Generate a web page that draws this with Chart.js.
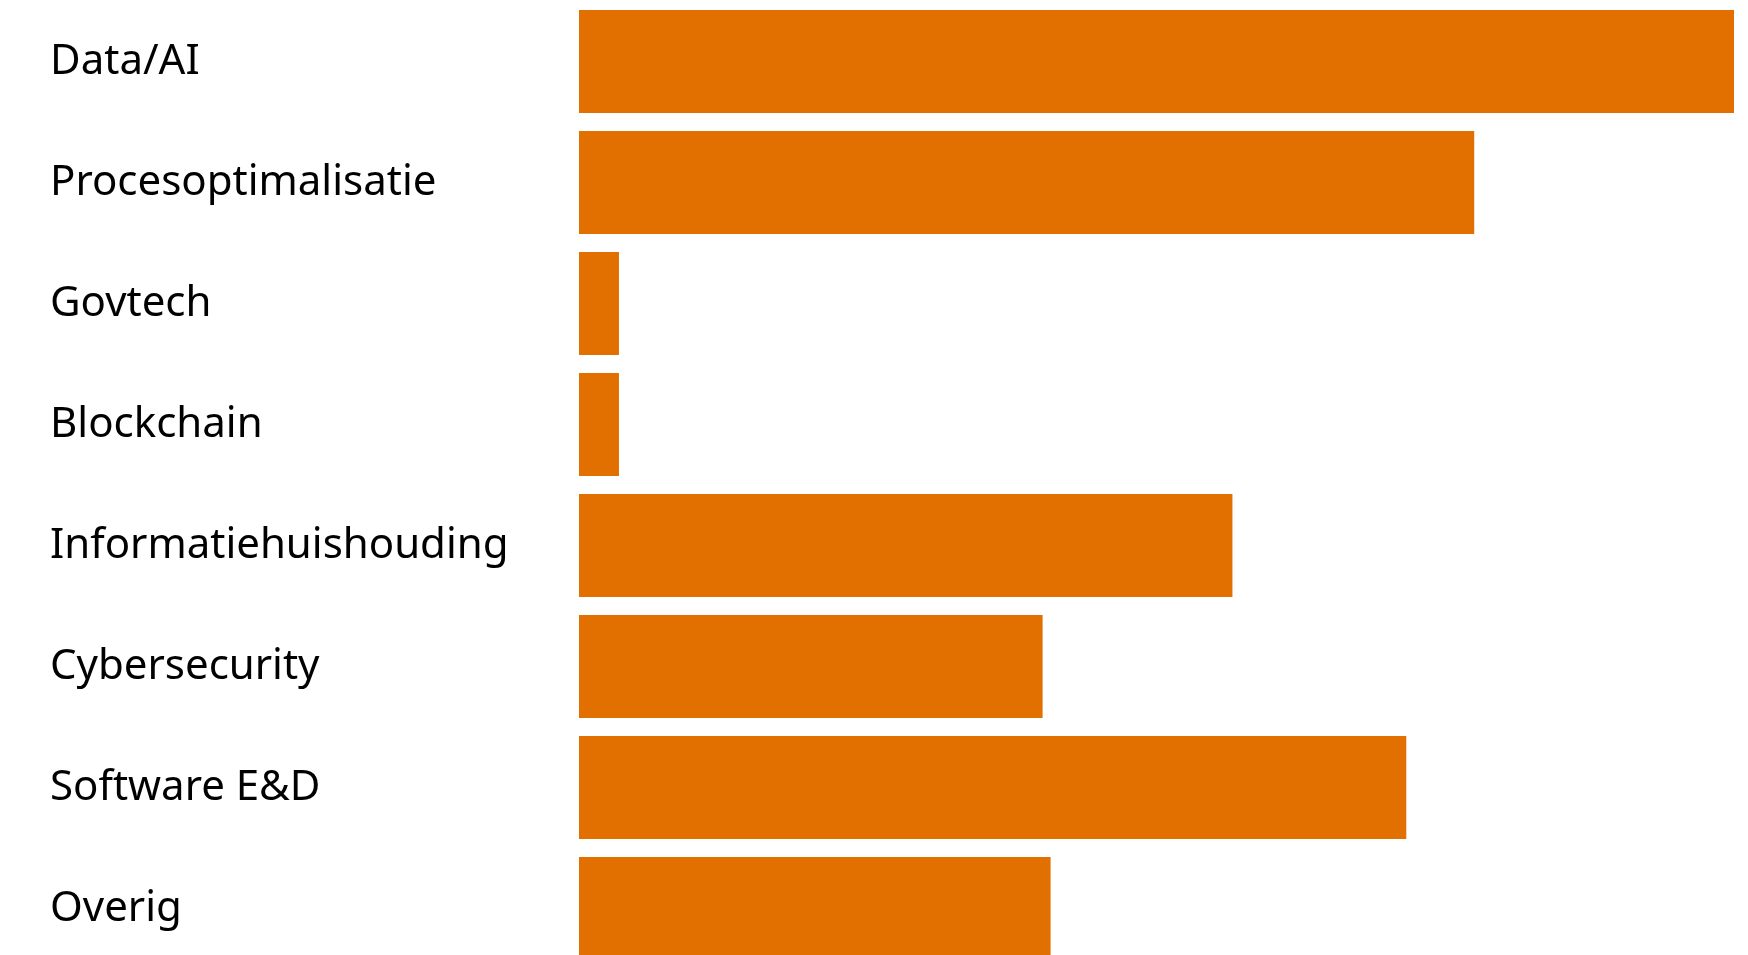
<!DOCTYPE html>
<html>
<head>
<meta charset="utf-8">
<script src="https://cdn.jsdelivr.net/npm/chart.js@4.4.1/dist/chart.umd.min.js"></script>
<style>
  html, body { margin: 0; padding: 0; background: #fff; overflow: hidden; }
  #wrap { width: 1748px; height: 969px; position: relative; }
</style>
</head>
<body>
<div id="wrap"><canvas id="themeChart"></canvas></div>
<script>
// thema's en aantallen
const categories = ["Data/AI", "Procesoptimalisatie", "Govtech", "Blockchain", "Informatiehuishouding", "Cybersecurity", "Software E&D", "Overig"];
const values = [28.9, 22.4, 1, 1, 16.35, 11.6, 20.7, 11.8];

const barColor = "#e17000";

const ctx = document.getElementById("themeChart").getContext("2d");
const themeChart = new Chart(ctx, {
  type: "bar",
  data: {
    labels: categories,
    datasets: [{
      data: values,
      backgroundColor: barColor,
      borderWidth: 0,
      barPercentage: 1,
      categoryPercentage: 0.85
    }]
  },
  options: {
    indexAxis: "y",
    responsive: true,
    maintainAspectRatio: false,
    animation: false,
    layout: { padding: { left: 50, right: 14, top: 1, bottom: 0 } },
    plugins: {
      legend: { display: false },
      tooltip: { enabled: false }
    },
    scales: {
      x: {
        display: false,
        min: 0,
        max: Math.max(...values)
      },
      y: {
        grid: { display: false },
        border: { display: false },
        ticks: {
          crossAlign: "far",
          padding: 0,
          labelOffset: 1,
          color: "#000",
          font: { family: "'Noto Sans', sans-serif", size: 42 }
        },
        afterFit: (scale) => {
          // labels mogen niet de plotruimte verkleinen
          scale.width = 529;
          scale.paddingTop = 0;
          scale.paddingBottom = 0;
        }
      }
    }
  }
});
</script>
</body>
</html>
